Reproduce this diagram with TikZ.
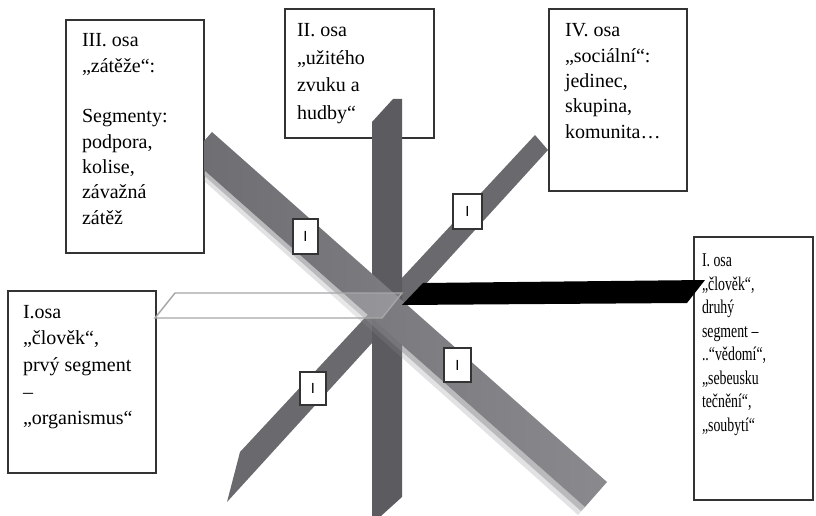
\documentclass[tikz,border=0pt]{standalone}
\usepackage{fontspec}
\usepackage{graphicx}
\setmainfont{Liberation Serif}
\newfontfamily\labfont{Liberation Sans}
\definecolor{boxc}{HTML}{333333}
\definecolor{barv}{HTML}{5C5B60}
\definecolor{barIV}{HTML}{6A696E}
\definecolor{barIIIa}{HTML}{6F6E73}
\definecolor{barIIIb}{HTML}{8A898E}
\definecolor{outl}{HTML}{A6A6A6}
\newcommand{\bxt}[2]{\parbox[t]{140pt}{\raggedright\fontsize{15}{#1}\selectfont #2}}
\tikzset{
  box/.style={draw=boxc, line width=1pt, fill=white, inner sep=0pt, outer sep=0pt, anchor=north west},
  txt/.style={anchor=base west, inner sep=0pt, outer sep=0pt},
  lab/.style={draw=boxc, line width=0.9pt, fill=white, inner sep=0pt, outer sep=0pt,
              font=\labfont\fontsize{11}{11}\selectfont}
}
\begin{document}
\begin{tikzpicture}[x=0.75pt, y=-0.75pt]
\useasboundingbox (0,0) rectangle (816,516);
% text boxes
\node[box, minimum width=103.5pt, minimum height=174.75pt] (b3) at (66,20) {};
\node[box, minimum width=111.75pt, minimum height=96.75pt] (b2) at (285,9) {};
\node[box, minimum width=103.5pt, minimum height=136.5pt] (b4) at (549,9) {};
\node[box, minimum width=111pt, minimum height=136.5pt] (bl) at (8,291) {};
\node[box, minimum width=89.25pt, minimum height=197.25pt] (br) at (694,237) {};
% texts
\node[txt] (t3) at (82,47) {\bxt{19pt}{III. osa\\„zátěže“:\\[19pt]Segmenty:\\podpora,\\kolise,\\závažná\\zátěž}};
\node[txt] (t2) at (297,37) {\bxt{20.6pt}{II. osa\\„užitého\\zvuku a\\hudby“}};
\node[txt] (t4) at (565,37) {\bxt{19pt}{IV. osa\\„sociální“:\\jedinec,\\skupina,\\komunita…}};
\node[txt] (tl) at (23,318) {\bxt{20pt}{I.osa\\„člověk“,\\prvý segment\\–\\„organismus“}};
\node[txt] (tr) at (702,267) {\scalebox{0.71}[1]{\parbox[t]{140pt}{\raggedright\fontsize{14.6}{17.6}\selectfont I. osa\\„člověk“,\\druhý\\segment –\\..“vědomí“,\\„sebeusku\\tečnění“,\\„soubytí“}}};
% bars
\fill[barIV] (240,452) -- (535,135) -- (548,150) -- (227,502) -- cycle;
\fill[barv] (372,122) -- (393,99) -- (402,99) -- (402,497) -- (381,516) -- (372,516) -- cycle;
\fill[barIIIb, opacity=0.25] (204,170) -- (585,507) -- (578,515) -- (204,181) -- cycle;
\fill[barIIIb, opacity=0.45] (204,170) -- (585,507) -- (581,511) -- (204,175.5) -- cycle;
\shade[left color=barIIIa, right color=barIIIb] (212,132) -- (607,482) -- (585,507) -- (204,170) -- (204,141) -- cycle;
\filldraw[draw=outl, line width=1.1pt, fill=white, fill opacity=0.2] (155,318) -- (175,293) -- (402,293) -- (382,318) -- cycle;
\fill[black] (402,305) -- (423,283) -- (705,280) -- (687,303) -- cycle;
% small labels
\node[lab, minimum width=18.75pt, minimum height=26.25pt] (l1) at (305.5,236.5) {I};
\node[lab, minimum width=21.75pt, minimum height=26.25pt] (l2) at (467.5,211.5) {I};
\node[lab, minimum width=19.5pt, minimum height=24.75pt] (l3) at (313,388.5) {I};
\node[lab, minimum width=20.25pt, minimum height=25.5pt] (l4) at (457.5,365) {I};
\end{tikzpicture}
\end{document}
